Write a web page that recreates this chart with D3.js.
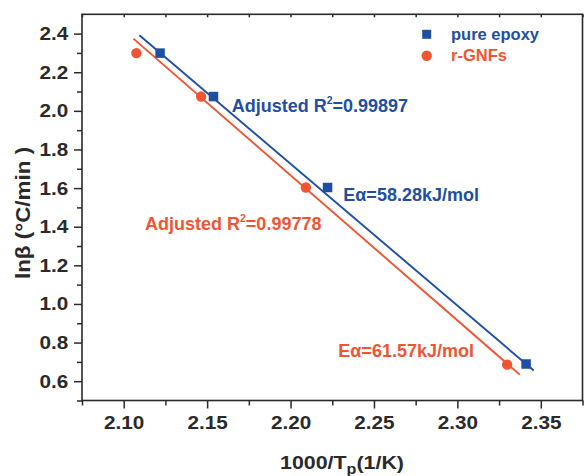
<!DOCTYPE html>
<html>
<head>
<meta charset="utf-8">
<script src="https://cdn.jsdelivr.net/npm/d3@7"></script>
<style>
  html, body { margin: 0; padding: 0; background: #fff; }
  svg { display: block; font-family: "Liberation Sans", Arial, sans-serif; font-weight: bold; }
</style>
</head>
<body>
<svg id="chart" width="584" height="476"></svg>
<script>
// ---- data ----
const seriesNames = ["pure epoxy", "r-GNFs"];
const epoxyX = [2.1218, 2.1538, 2.2222, 2.3412];
const epoxyY = [2.299, 2.074, 1.603, 0.689];
const gnfX = [2.1076, 2.1464, 2.2092, 2.3298];
const gnfY = [2.299, 2.074, 1.603, 0.686];
const epoxyFitX = [2.1094, 2.3458];
const epoxyFitY = [2.391, 0.655];
const gnfFitX = [2.1058, 2.3374];
const gnfFitY = [2.374, 0.634];
const xMajorTicks = [2.10, 2.15, 2.20, 2.25, 2.30, 2.35];
const xMinorTicks = [2.075, 2.125, 2.175, 2.225, 2.275, 2.325, 2.375];
const yMajorTicks = [0.6, 0.8, 1.0, 1.2, 1.4, 1.6, 1.8, 2.0, 2.2, 2.4];
const yMinorTicks = [0.5, 0.7, 0.9, 1.1, 1.3, 1.5, 1.7, 1.9, 2.1, 2.3];
const epoxyR2 = "0.99897", gnfR2 = "0.99778";
const epoxyEa = "58.28", gnfEa = "61.57";

// ---- styles ----
const BLUE = "#1f4fa0", RED = "#ee5633", AX = "#2a2a2a";
const mLeft = 82, mRight = 582.5, mTop = 14.3, mBottom = 400.5;

const svg = d3.select("#chart");
const x = d3.scaleLinear().domain([2.075, 2.375]).range([mLeft, mRight]);
const y = d3.scaleLinear().domain([0.5, 2.5]).range([mBottom, mTop]);

function styleAxis(g) {
  g.select(".domain").remove();
  g.selectAll(".tick line").attr("stroke", AX).attr("stroke-width", 1.5);
  g.selectAll("text").attr("fill", AX);
}

// bottom axis
const gx = svg.append("g").attr("transform", `translate(0,${mBottom})`);
gx.append("g").call(d3.axisBottom(x).tickValues(xMinorTicks).tickSize(5).tickFormat(""))
  .call(styleAxis);
gx.append("g").call(d3.axisBottom(x).tickValues(xMajorTicks).tickSize(8).tickFormat(d3.format(".2f")))
  .call(styleAxis)
  .call(g => g.selectAll("text").attr("y", 28.5).attr("dy", 0)
    .attr("font-size", "18.5px").attr("transform", "scale(1.12,1)"));

// top axis (small inward ticks)
svg.append("g").attr("transform", `translate(0,${mTop})`)
  .call(d3.axisTop(x).tickValues(xMajorTicks.concat(xMinorTicks)).tickSize(-3).tickFormat(""))
  .call(styleAxis);

// left axis
const gy = svg.append("g").attr("transform", `translate(${mLeft},0)`);
gy.append("g").call(d3.axisLeft(y).tickValues(yMinorTicks).tickSize(5).tickFormat(""))
  .call(styleAxis);
gy.append("g").call(d3.axisLeft(y).tickValues(yMajorTicks).tickSize(8).tickFormat(d3.format(".1f")))
  .call(styleAxis)
  .call(g => g.selectAll("text").attr("x", -12.2).attr("dy", "0.32em")
    .attr("font-size", "18.5px").attr("transform", "scale(1.12,1)"));

// frame
svg.append("rect").attr("x", mLeft).attr("y", mTop)
  .attr("width", mRight - mLeft).attr("height", mBottom - mTop)
  .attr("fill", "none").attr("stroke", AX).attr("stroke-width", 1.6);

// fit lines
const line = d3.line().x(d => x(d[0])).y(d => y(d[1]));
svg.append("path").datum(d3.zip(epoxyFitX, epoxyFitY)).attr("d", line)
  .attr("fill", "none").attr("stroke", BLUE).attr("stroke-width", 1.9);
svg.append("path").datum(d3.zip(gnfFitX, gnfFitY)).attr("d", line)
  .attr("fill", "none").attr("stroke", RED).attr("stroke-width", 1.9);

// markers
const sq = 9.5;
svg.append("g").selectAll("rect").data(d3.zip(epoxyX, epoxyY)).join("rect")
  .attr("x", d => x(d[0]) - sq / 2).attr("y", d => y(d[1]) - sq / 2)
  .attr("width", sq).attr("height", sq).attr("fill", BLUE);
svg.append("g").selectAll("circle").data(d3.zip(gnfX, gnfY)).join("circle")
  .attr("cx", d => x(d[0])).attr("cy", d => y(d[1])).attr("r", 5.2).attr("fill", RED);

// annotations
function r2Label(px, py, val, color) {
  const t = svg.append("text").attr("x", px).attr("y", py).attr("fill", color).attr("font-size", "18px");
  t.append("tspan").text("Adjusted R");
  t.append("tspan").text("2").attr("font-size", "10.5px").attr("dy", -8);
  t.append("tspan").text("=" + val).attr("dy", 8);
}
function eaLabel(px, py, val, color) {
  svg.append("text").attr("x", px).attr("y", py).attr("fill", color).attr("font-size", "18px")
    .text("E\u03b1=" + val + "kJ/mol");
}
r2Label(231.7, 111.7, epoxyR2, BLUE);
eaLabel(343.3, 200.7, epoxyEa, BLUE);
r2Label(145, 230, gnfR2, RED);
eaLabel(338.3, 356.7, gnfEa, RED);

// legend
const lg = svg.append("g");
lg.append("rect").attr("x", 426.7 - 4.5).attr("y", 34.3 - 4.5).attr("width", 9).attr("height", 9).attr("fill", BLUE);
lg.append("circle").attr("cx", 426.7).attr("cy", 55.7).attr("r", 5.2).attr("fill", RED);
lg.append("text").attr("x", 451).attr("y", 40).attr("fill", BLUE).attr("font-size", "16.5px").text(seriesNames[0]);
lg.append("text").attr("x", 451).attr("y", 61).attr("fill", RED).attr("font-size", "16.5px").text(seriesNames[1]);

// axis titles
const xt = svg.append("text").attr("text-anchor", "middle").attr("fill", AX).attr("font-size", "18.6px")
  .attr("transform", "translate(342,469.3) scale(1.15,1)");
xt.append("tspan").text("1000/T");
xt.append("tspan").text("p").attr("font-size", "14px").attr("dy", 5);
xt.append("tspan").text("(1/K)").attr("dy", -5);

svg.append("text").attr("text-anchor", "middle").attr("fill", AX).attr("font-size", "19.5px")
  .attr("transform", "translate(30,213) rotate(-90) scale(1.15,1)")
  .text("ln\u03b2 (\u00b0C/min )");
</script>
</body>
</html>
